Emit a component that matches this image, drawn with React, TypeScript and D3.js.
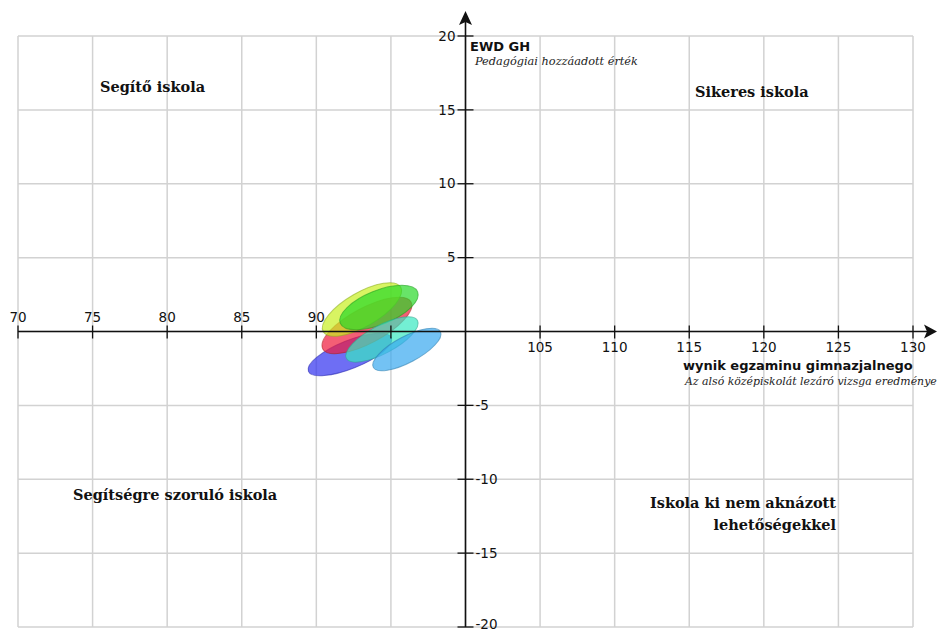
import React from "react";
import * as d3 from "d3";

const xTicks = [70, 75, 80, 85, 90, 95, 105, 110, 115, 120, 125, 130];
const xLabelled = [70, 75, 80, 85, 90, 105, 110, 115, 120, 125, 130];
const yTicks = [-20, -15, -10, -5, 5, 10, 15, 20];
const gridX = d3.range(70, 131, 5);
const gridY = d3.range(-20, 21, 5);

// ellipses: center x, center y, semi-axis x, semi-axis y, rotation (deg)
const ellNames = ["blue", "red", "yellowgreen", "green", "turquoise", "skyblue"];
const ellCx = [92.25, 93.39, 93.06, 94.2, 94.4, 96.07];
const ellCy = [-1.56, 0.41, 1.49, 1.62, -0.54, -1.22];
const ellRx = [3.0, 3.35, 3.0, 2.8, 2.7, 2.55];
const ellRy = [0.95, 1.2, 1.15, 1.15, 0.95, 0.88];
const ellAngle = [-22, -28, -30, -22, -28, -28];
const ellFill = ["#3030f0", "#f01a3a", "#c8f020", "#28d828", "#38e8c0", "#38a8f0"];
const ellStroke = ["#2a2ab0", "#b02020", "#90b020", "#20a020", "#30a890", "#3080b0"];

const quadLabels = ["Segítő iskola", "Sikeres iskola", "Segítségre szoruló iskola"];

export default function App() {
  const W = 937, H = 632;
  const x = d3.scaleLinear().domain([70, 130]).range([18, 913]);
  const y = d3.scaleLinear().domain([-20, 20]).range([627, 36]);
  const sans = "DejaVu Sans, sans-serif";
  const serif = "DejaVu Serif, serif";
  const gridColor = "#d2d2d2";
  const x0 = x(100), y0 = y(0);

  return (
    <svg width={W} height={H} style={{ position: "absolute", left: 0, top: 0, background: "#fff" }}>
      <g>
        {gridX.map((v) => (
          <line key={"gx" + v} x1={x(v)} x2={x(v)} y1={y(-20)} y2={y(20)} stroke={gridColor} strokeWidth={1.5} />
        ))}
        {gridY.map((v) => (
          <line key={"gy" + v} x1={x(70)} x2={x(130)} y1={y(v)} y2={y(v)} stroke={gridColor} strokeWidth={1.5} />
        ))}
      </g>
      <g>
        {ellNames.map((n, i) => {
          const cx = x(ellCx[i]);
          const cy = y(ellCy[i]);
          const rx = x(ellCx[i] + ellRx[i]) - cx;
          const ry = y(0) - y(ellRy[i]);
          return (
            <ellipse key={n} cx={cx} cy={cy} rx={rx} ry={ry}
              transform={`rotate(${ellAngle[i]} ${cx} ${cy})`}
              fill={ellFill[i]} fillOpacity={0.7} stroke={ellStroke[i]} strokeOpacity={0.6} strokeWidth={1} />
          );
        })}
      </g>
      {/* axes */}
      <line x1={x(70)} x2={929} y1={y0} y2={y0} stroke="#111" strokeWidth={1.6} />
      <path d={`M937,${y0} L924,${y0 - 7} L927,${y0} L924,${y0 + 7} Z`} fill="#111" />
      <line x1={x0} x2={x0} y1={y(-20)} y2={20} stroke="#111" strokeWidth={1.6} />
      <path d={`M${x0},11 L${x0 - 6.5},25 L${x0},22 L${x0 + 6.5},25 Z`} fill="#111" />
      {xTicks.map((v) => (
        <line key={"xt" + v} x1={x(v)} x2={x(v)} y1={y0 - 6} y2={y0 + 7} stroke="#111" strokeWidth={1.3} />
      ))}
      {yTicks.map((v) => (
        <line key={"yt" + v} x1={x0 - 8} x2={x0 + 8} y1={y(v)} y2={y(v)} stroke="#111" strokeWidth={1.3} />
      ))}
      {xLabelled.map((v) => (
        <text key={"xl" + v} x={x(v)} y={v < 100 ? y0 - 10 : y0 + 20} textAnchor="middle"
          fontFamily={sans} fontSize={13.5} fill="#111">{v}</text>
      ))}
      {yTicks.map((v) => (
        <text key={"yl" + v} x={v > 0 ? x0 - 10 : x0 + 10} y={v === -20 ? y(v) - 3 : y(v)} dy="0.35em"
          textAnchor={v > 0 ? "end" : "start"} fontFamily={sans} fontSize={13.5} fill="#111">{v}</text>
      ))}
      {/* axis titles */}
      <text x={470} y={51} fontFamily={sans} fontWeight="bold" fontSize={13} fill="#111">EWD GH</text>
      <text x={475} y={65} fontFamily={serif} fontStyle="italic" fontSize={11.3} fill="#222">Pedagógiai hozzáadott érték</text>
      <text x={683} y={370} fontFamily={sans} fontWeight="bold" fontSize={13} fill="#111">wynik egzaminu gimnazjalnego</text>
      <text x={685} y={385} fontFamily={serif} fontStyle="italic" fontSize={10.9} fill="#222">Az alsó középiskolát lezáró vizsga eredménye</text>
      {/* quadrant labels */}
      <text x={100} y={92} fontFamily={serif} fontWeight="bold" fontSize={14.5} fill="#111">{quadLabels[0]}</text>
      <text x={695} y={97} fontFamily={serif} fontWeight="bold" fontSize={14.5} fill="#111">{quadLabels[1]}</text>
      <text x={73} y={500} fontFamily={serif} fontWeight="bold" fontSize={14.5} fill="#111">{quadLabels[2]}</text>
      <text x={836} y={508} textAnchor="end" fontFamily={serif} fontWeight="bold" fontSize={14.5} fill="#111">Iskola ki nem aknázott</text>
      <text x={836} y={530} textAnchor="end" fontFamily={serif} fontWeight="bold" fontSize={14.5} fill="#111">lehetőségekkel</text>
    </svg>
  );
}
